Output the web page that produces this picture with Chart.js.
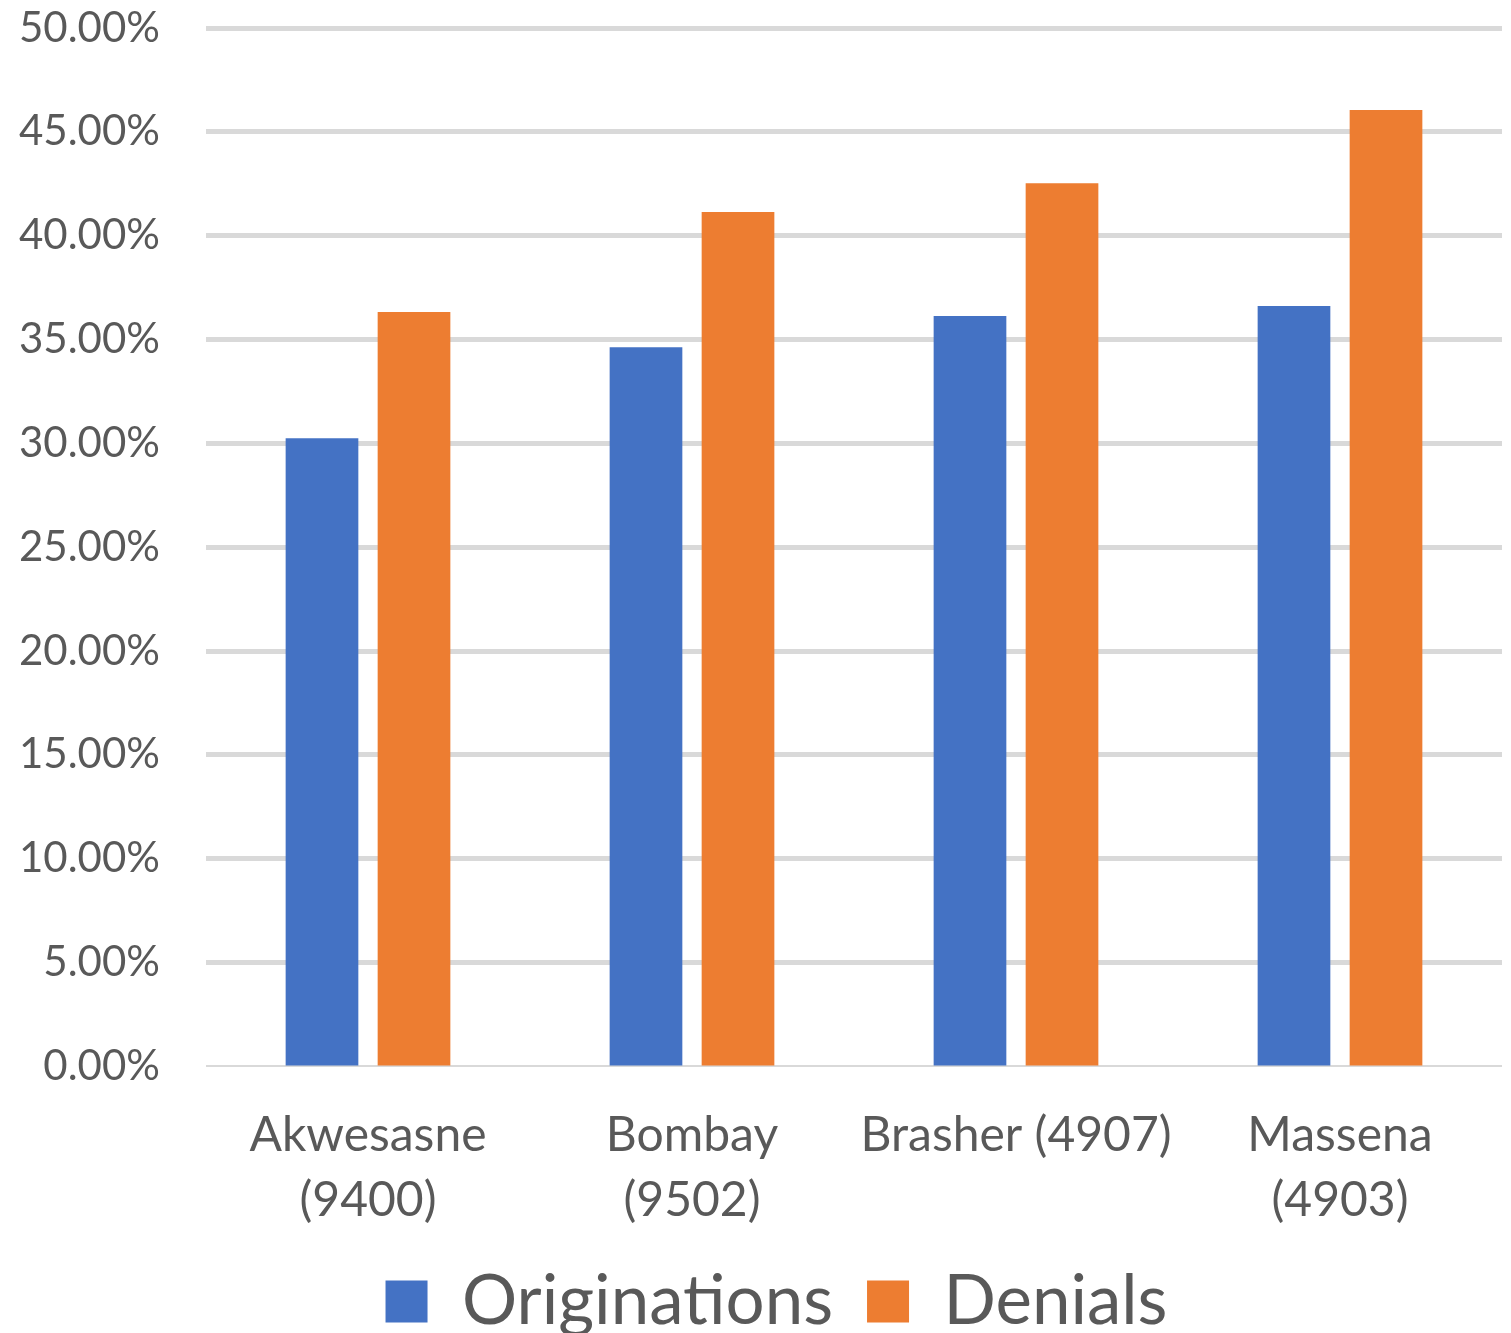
<!DOCTYPE html>
<html>
<head>
<meta charset="utf-8">
<style>
  html, body { margin: 0; padding: 0; background: #ffffff; }
  #wrap { width: 1511px; height: 1333px; }
</style>
<script src="https://cdn.jsdelivr.net/npm/chart.js@4/dist/chart.umd.min.js"></script>
</head>
<body>
<div id="wrap"><canvas id="chart" width="1511" height="1333"></canvas></div>
<script>
// Branch names with their branch numbers
const categories = [
  ["Akwesasne", "(9400)"],
  ["Bombay", "(9502)"],
  "Brasher (4907)",
  ["Massena", "(4903)"]
];

// Share of applications, in percent
const originations = [30.25, 34.63, 36.13, 36.61];
const denials = [36.32, 41.14, 42.53, 46.05];

const seriesNames = ["Originations", "Denials"];

const yTickMin = 0;
const yTickMax = 50;
const yTickStep = 5;

const textColor = "#595959";
const fontFamily = "Lato, 'Open Sans', sans-serif";
const yTickFont = { family: fontFamily, size: 42 };
const xTickFont = { family: fontFamily, size: 48, lineHeight: 1.35 };
const xTickPadding = 29;

// Width of the widest y tick label, so the right-aligned labels can sit
// a fixed gap left of the plot area.
function widestYLabel() {
  const c = document.createElement("canvas").getContext("2d");
  c.font = yTickFont.size + "px " + yTickFont.family;
  let w = 0;
  for (let v = yTickMin; v <= yTickMax; v += yTickStep) {
    w = Math.max(w, c.measureText(v.toFixed(2) + "%").width);
  }
  return w;
}
const yLabelGap = 46;

new Chart(document.getElementById("chart"), {
  type: "bar",
  data: {
    labels: categories,
    datasets: [
      {
        label: seriesNames[0],
        data: originations,
        backgroundColor: "#4472C4",
        borderWidth: 0,
        categoryPercentage: 0.568,
        barPercentage: 0.79
      },
      {
        label: seriesNames[1],
        data: denials,
        backgroundColor: "#ED7D31",
        borderWidth: 0,
        categoryPercentage: 0.568,
        barPercentage: 0.79
      }
    ]
  },
  options: {
    responsive: false,
    animation: false,
    layout: { padding: { left: 51, right: 9, top: 28, bottom: -13 } },
    plugins: {
      tooltip: { enabled: false },
      legend: {
        position: "bottom",
        labels: {
          color: textColor,
          font: { family: fontFamily, size: 69 },
          boxWidth: 42,
          boxHeight: 42,
          padding: 34
        }
      }
    },
    scales: {
      x: {
        grid: { display: false },
        border: { display: false },
        ticks: {
          color: textColor,
          font: xTickFont,
          padding: xTickPadding,
          maxRotation: 0,
          autoSkip: false
        },
        // tick mark length + padding + two lines of label text
        afterFit: (scale) => {
          scale.height = 8 + xTickPadding + 2 * xTickFont.size * xTickFont.lineHeight;
        }
      },
      y: {
        min: yTickMin,
        max: yTickMax,
        border: { display: false },
        grid: {
          color: "#D9D9D9",
          lineWidth: (ctx) => (ctx.tick && ctx.tick.value === 0 ? 2 : 5),
          drawTicks: false
        },
        ticks: {
          stepSize: yTickStep,
          color: textColor,
          font: yTickFont,
          mirror: true,
          crossAlign: "far",
          padding: -(yLabelGap + widestYLabel()),
          callback: (v) => v.toFixed(2) + "%"
        },
        afterFit: (scale) => { scale.width = 155; }
      }
    }
  }
});
</script>
</body>
</html>
